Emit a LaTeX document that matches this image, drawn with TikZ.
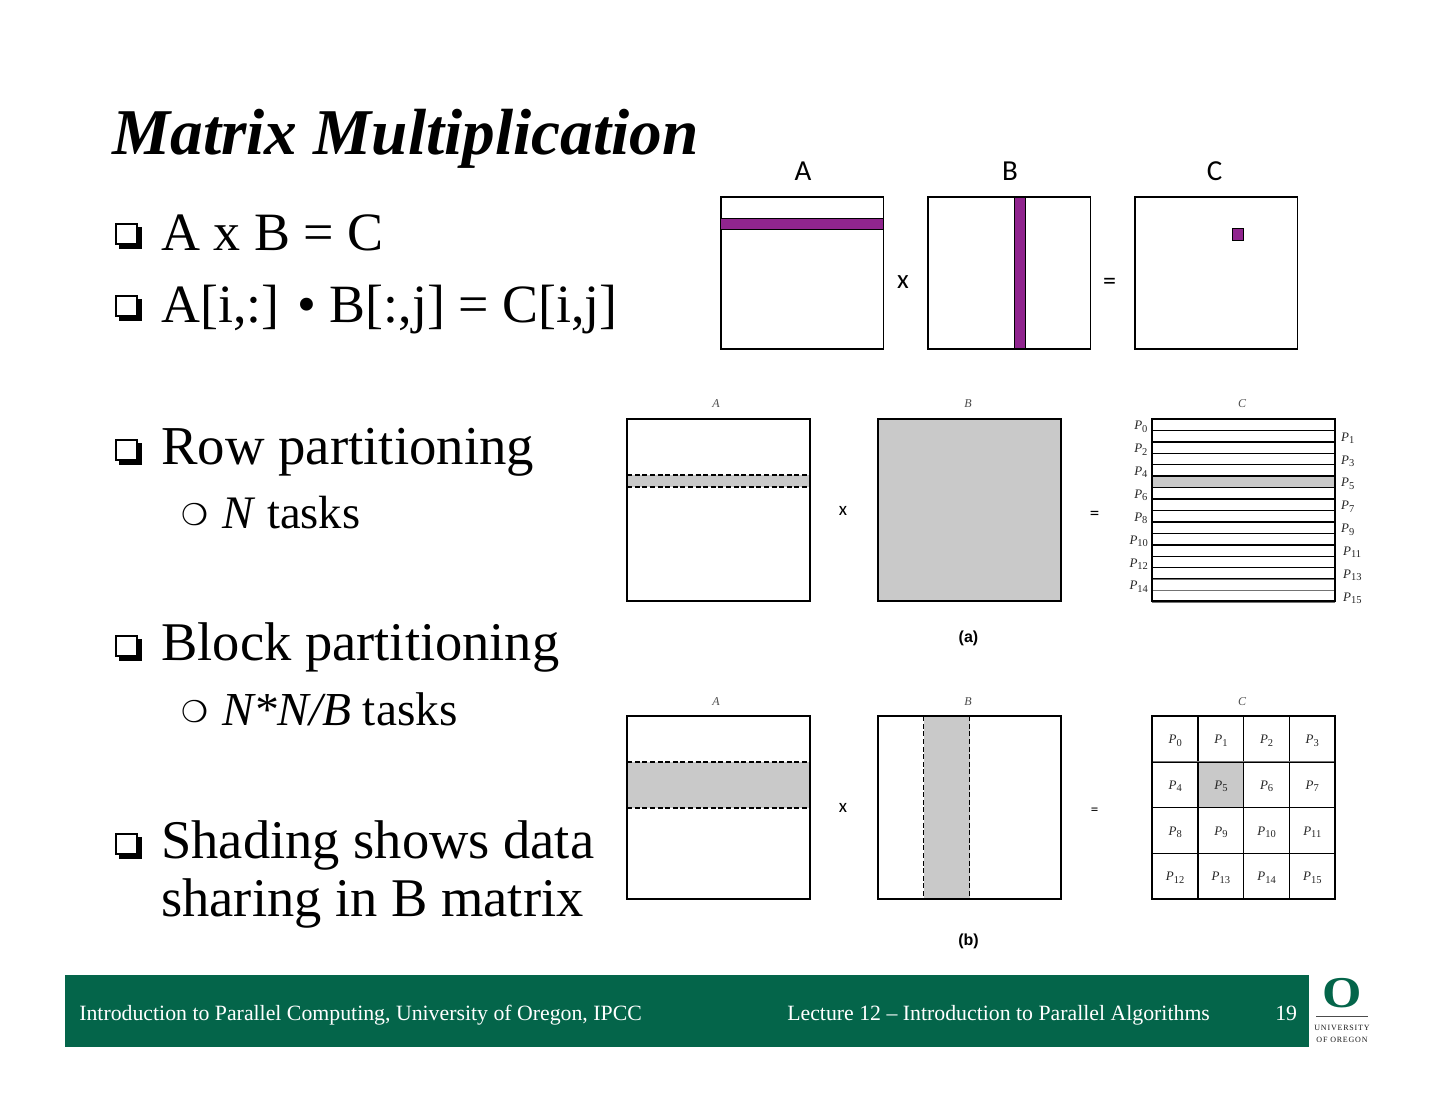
\documentclass[tikz,border=0pt]{standalone}
\usepackage{fontspec}
\setmainfont{Liberation Serif}
\newfontfamily\bulletfont{DejaVu Sans}
\newfontfamily\labelfont{Carlito}
\newfontfamily\capfont{Liberation Sans}
\newfontfamily\logofont[LetterSpace=10]{Liberation Serif}
\usetikzlibrary{positioning,shadows}
\definecolor{oregongreen}{HTML}{04654A}
\definecolor{barpurple}{HTML}{90258E}
\definecolor{shadegray}{HTML}{C9C9C9}
\newcommand{\Pn}[1]{\textit{P}\raisebox{-.18em}{\fontsize{10.5}{11}\selectfont #1}}

\begin{document}
\begin{tikzpicture}[x=1pt,y=-1pt,semithick,
    headline/.style={anchor=base west,inner sep=0pt,font=\fontsize{65.3}{70}\selectfont\bfseries\itshape},
    mainitem/.style={anchor=base west,inner sep=0pt,font=\fontsize{54.5}{58}\selectfont},
    subitem/.style={anchor=base west,inner sep=0pt,font=\fontsize{47.3}{50}\selectfont},
    mainmark/.style={draw,line width=1.8pt,fill=white,inner sep=0pt,minimum size=20.5pt,
      copy shadow={shadow xshift=4pt,shadow yshift=-4pt,fill=black,draw=black}},
    submark/.style={anchor=center,inner sep=0pt,font=\fontsize{30}{30}\selectfont\bulletfont},
    footertext/.style={anchor=base west,inner sep=0pt,text=white,font=\fontsize{21.8}{25}\selectfont},
    bigmatrix/.style={draw,line width=1.8pt,fill=white,inner sep=0pt,minimum width=162.8pt,minimum height=151.5pt},
    matrix/.style={draw,line width=1.8pt,inner sep=0pt,outer sep=0pt,minimum size=182.5pt},
    purplebar/.style={draw,line width=.7pt,fill=barpurple,inner sep=0pt},
    dashedbar/.style={fill=shadegray,inner sep=0pt,outer sep=0pt},
    cutline/.style={dash pattern=on 5pt off 2.6pt,line width=1.1pt},
    tag/.style={inner sep=0pt,font=\fontsize{29}{30}\selectfont\labelfont},
    op/.style={inner sep=0pt,font=\fontsize{19}{20}\selectfont\labelfont},
    smalltag/.style={inner sep=0pt,text=black!70,font=\fontsize{12}{13}\selectfont\itshape},
    capt/.style={inner sep=0pt,font=\fontsize{16}{17}\selectfont\capfont\bfseries},
    rowcell/.style={draw,line width=1.4pt,inner sep=0pt,outer sep=0pt,minimum width=182.5pt,minimum height=11.44pt},
    proc/.style={inner sep=0pt,text=black!85,yshift=-2pt,font=\fontsize{13}{13}\selectfont},
    blockcell/.style={draw,line width=1.4pt,inner sep=0pt,outer sep=0pt,minimum size=45.7pt,text height=10pt,text depth=.4pt,text=black!85,font=\fontsize{13}{13}\selectfont}]

  \useasboundingbox (0,0) rectangle (1440,1113);

  % title and text
  \node[headline] (title) at (112,154) {Matrix Multiplication};

  \node[mainmark] (m1) at (126.5,234) {};
  \node[mainitem,font=\fontsize{54}{58}\selectfont] (t1) at (161,250) {A x B = C};
  \node[mainmark] (m2) at (126.5,306) {};
  \node[mainitem,font=\fontsize{53.9}{58}\selectfont] (t2) at (161,322) {A[i,:] • B[:,j] = C[i,j]};
  \node[mainmark] (m3) at (126.5,450) {};
  \node[mainitem,font=\fontsize{54.8}{58}\selectfont] (t3) at (161,464) {Row partitioning};
  \node[submark]  (m4) at (195,515) {❍};
  \node[subitem,font=\fontsize{46.6}{50}\selectfont] (t4) at (222,528) {\textit{N} tasks};
  \node[mainmark] (m5) at (126.5,646) {};
  \node[mainitem] (t5) at (161,660) {Block partitioning};
  \node[submark]  (m6) at (195,712) {❍};
  \node[subitem]  (t6) at (222,725) {\textit{N*N/B} tasks};
  \node[mainmark] (m7) at (126.5,844) {};
  \node[mainitem] (t7) at (161,858) {Shading shows data};
  \node[mainitem] (t8) at (161,916) {sharing in B matrix};

  % top row
  \node[tag] (lA) at (803,171) {A};
  \node[tag] (lB) at (1010,171) {B};
  \node[tag] (lC) at (1214.5,171) {C};
  \node[bigmatrix] (mA) at (802,273) {};
  \node[bigmatrix] (mB) at (1009,273) {};
  \node[bigmatrix] (mC) at (1216,273) {};
  \node[purplebar,minimum width=162.8pt,minimum height=11pt] (barA) at (802,223.5) {};
  \draw[line width=1.2pt] (barA.south west) -- (barA.south east);
  \node[purplebar,minimum width=11.5pt,minimum height=151.5pt] (barB) at (1020,273) {};
  \node[purplebar,minimum width=11.5pt,minimum height=12pt] (barC) at (1238,234.5) {};
  \node[tag,font=\fontsize{27}{28}\selectfont\labelfont] (xtop) at (903,282) {x};
  \node[tag,font=\fontsize{26}{27}\selectfont\labelfont] (eqtop) at (1109.5,284) {=};

  % row partitioning
  \node[smalltag] (rA) at (716,404) {A};
  \node[smalltag] (rB) at (968,404) {B};
  \node[smalltag] (rC) at (1242,404) {C};
  \node[dashedbar,minimum width=182.5pt,minimum height=12pt] (rbar) at (718.5,481) {};
  \draw[cutline] (rbar.north west) -- (rbar.north east);
  \draw[cutline] (rbar.south west) -- (rbar.south east);
  \node[matrix] (rmA) at (718.5,510) {};
  \node[matrix,fill=shadegray] (rmB) at (969.5,510) {};
  \node[op] (rx) at (843,511) {x};
  \node[op] (req) at (1094.5,515) {=};

  \node[rowcell] (r0) at (1243.5,424.7) {};
  \node[rowcell] (r1) [below=0pt of r0] {};
  \node[rowcell] (r2) [below=0pt of r1] {};
  \node[rowcell] (r3) [below=0pt of r2] {};
  \node[rowcell] (r4) [below=0pt of r3] {};
  \node[rowcell,fill=shadegray] (r5) [below=0pt of r4] {};
  \node[rowcell] (r6) [below=0pt of r5] {};
  \node[rowcell] (r7) [below=0pt of r6] {};
  \node[rowcell] (r8) [below=0pt of r7] {};
  \node[rowcell] (r9) [below=0pt of r8] {};
  \node[rowcell] (r10) [below=0pt of r9] {};
  \node[rowcell] (r11) [below=0pt of r10] {};
  \node[rowcell] (r12) [below=0pt of r11] {};
  \node[rowcell] (r13) [below=0pt of r12] {};
  \node[rowcell,draw=black!55,line width=.8pt] (r14) [below=0pt of r13] {};
  \node[rowcell,draw=black!55,line width=.8pt] (r15) [below=0pt of r14] {};
  \node[matrix] (rmC) at (1243.5,510) {};

  \node[proc] (p0) [left=4.5pt of r0] {\Pn{0}};
  \node[proc] (p2) [left=4.5pt of r2] {\Pn{2}};
  \node[proc] (p4) [left=4.5pt of r4] {\Pn{4}};
  \node[proc] (p6) [left=4.5pt of r6] {\Pn{6}};
  \node[proc] (p8) [left=4.5pt of r8] {\Pn{8}};
  \node[proc] (p10) [left=4pt of r10] {\Pn{10}};
  \node[proc] (p12) [left=4pt of r12] {\Pn{12}};
  \node[proc] (p14) [left=4pt of r14] {\Pn{14}};
  \node[proc] (p1) [right=6pt of r1] {\Pn{1}};
  \node[proc] (p3) [right=6pt of r3] {\Pn{3}};
  \node[proc] (p5) [right=6pt of r5] {\Pn{5}};
  \node[proc] (p7) [right=6pt of r7] {\Pn{7}};
  \node[proc] (p9) [right=6pt of r9] {\Pn{9}};
  \node[proc] (p11) [right=8pt of r11] {\Pn{11}};
  \node[proc] (p13) [right=8pt of r13] {\Pn{13}};
  \node[proc] (p15) [right=8pt of r15] {\Pn{15}};
  \node[capt] (capa) at (968.5,638) {(a)};

  % block partitioning
  \node[smalltag] (bA) at (716,702) {A};
  \node[smalltag] (bB) at (968,702) {B};
  \node[smalltag] (bC) at (1242,702) {C};
  \node[dashedbar,minimum width=182.5pt,minimum height=46pt] (bbarA) at (718.5,785) {};
  \draw[cutline] (bbarA.north west) -- (bbarA.north east);
  \draw[cutline] (bbarA.south west) -- (bbarA.south east);
  \node[dashedbar,minimum width=46pt,minimum height=182.5pt] (bbarB) at (946.5,807.5) {};
  \draw[cutline] (bbarB.north west) -- (bbarB.south west);
  \draw[cutline] (bbarB.north east) -- (bbarB.south east);
  \node[matrix] (bmA) at (718.5,807.5) {};
  \node[matrix] (bmB) at (969.5,807.5) {};
  \node[op] (bx) at (843,808) {x};
  \node[op,font=\fontsize{15}{16}\selectfont\labelfont] (beq) at (1094.5,811) {=};

  \node[blockcell] (c0) at (1175.2,739) {\Pn{0}};
  \node[blockcell] (c1) [right=0pt of c0] {\Pn{1}};
  \node[blockcell] (c2) [right=0pt of c1] {\Pn{2}};
  \node[blockcell] (c3) [right=0pt of c2] {\Pn{3}};
  \node[blockcell] (c4) [below=0pt of c0] {\Pn{4}};
  \node[blockcell,fill=shadegray] (c5) [below=0pt of c1] {\Pn{5}};
  \node[blockcell] (c6) [below=0pt of c2] {\Pn{6}};
  \node[blockcell] (c7) [below=0pt of c3] {\Pn{7}};
  \node[blockcell] (c8) [below=0pt of c4] {\Pn{8}};
  \node[blockcell] (c9) [below=0pt of c5] {\Pn{9}};
  \node[blockcell] (c10) [below=0pt of c6] {\Pn{10}};
  \node[blockcell] (c11) [below=0pt of c7] {\Pn{11}};
  \node[blockcell] (c12) [below=0pt of c8] {\Pn{12}};
  \node[blockcell] (c13) [below=0pt of c9] {\Pn{13}};
  \node[blockcell] (c14) [below=0pt of c10] {\Pn{14}};
  \node[blockcell] (c15) [below=0pt of c11] {\Pn{15}};
  \draw[black!55,line width=.8pt] (c4.north west) -- (c7.north east);
  \node[matrix] (bmC) at (1243.5,807.5) {};
  \node[capt] (capb) at (968.5,941) {(b)};

  % footer
  \fill[oregongreen] (65,975) rectangle (1309,1047);
  \node[footertext] (f1) at (79,1020) {Introduction to Parallel Computing, University of Oregon, IPCC};
  \node[footertext] (f2) at (787,1020) {Lecture 12 – Introduction to Parallel Algorithms};
  \node[footertext] (f3) at (1275,1020) {19};
  \node[inner sep=0pt,text=oregongreen,font=\fontsize{44}{44}\selectfont\bfseries] (logo) at (1342,993) {\scalebox{1.15}[1]{O}};
  \draw[black!70,line width=.8pt] (1316,1016.5) -- (1368,1016.5);
  \node[inner sep=0pt,text=black!90,font=\fontsize{8}{8}\selectfont\logofont] (uni1) at (1342,1028) {UNIVERSITY};
  \node[inner sep=0pt,text=black!90,font=\fontsize{8}{8}\selectfont\logofont] (uni2) at (1342,1039.5) {OF OREGON};

\end{tikzpicture}
\end{document}
